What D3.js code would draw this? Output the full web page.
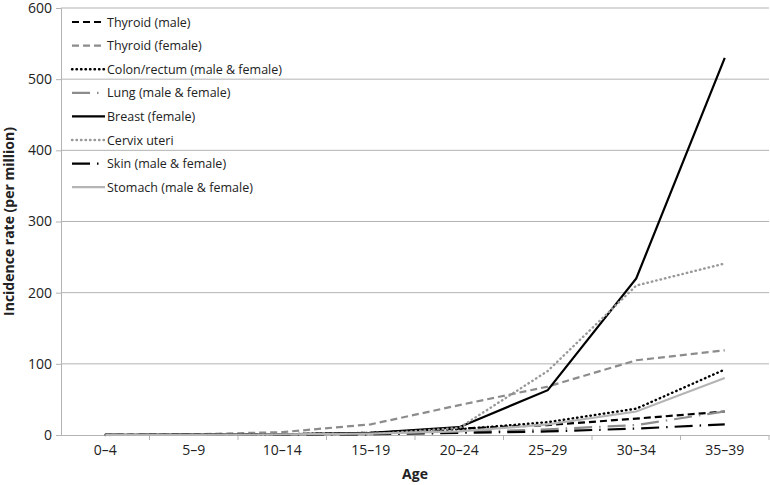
<!DOCTYPE html>
<html lang="en">
<head>
<meta charset="utf-8">
<title>Incidence rate by age</title>
<script src="https://cdn.jsdelivr.net/npm/d3@7"></script>
<style>
  body { margin: 0; background: #fff; }
  text { font-family: "Open Sans", "Liberation Sans", sans-serif; }
</style>
</head>
<body>
<script>
var ages = ["0\u20134", "5\u20139", "10\u201314", "15\u201319", "20\u201324", "25\u201329", "30\u201334", "35\u201339"];
var yTicks = [0, 100, 200, 300, 400, 500, 600];

var thyroidMale   = [0.2, 0.5, 1, 3, 9, 14, 23, 33];
var thyroidFemale = [0.3, 1, 4, 15, 42, 68, 105, 119];
var colon         = [0.2, 0.3, 1, 3, 8, 18, 37, 92];
var lung          = [0.2, 0.3, 0.8, 2, 4, 8, 14, 33];
var breast        = [0.2, 0.5, 1, 3, 11, 63, 220, 530];
var cervix        = [0.1, 0.2, 0.5, 1, 10, 90, 210, 241];
var skin          = [0.1, 0.2, 0.5, 1, 3, 5, 9, 15];
var stomach       = [0.2, 0.3, 0.8, 2, 5, 15, 33, 80];

var series = [
  {name: "Thyroid (male)", values: thyroidMale, color: "#000", dash: "7,4", width: 2.2},
  {name: "Thyroid (female)", values: thyroidFemale, color: "#8c8c8c", dash: "7,4", width: 2.2},
  {name: "Colon/rectum (male & female)", values: colon, color: "#000", dash: "0.5,4", width: 2.4, cap: "round"},
  {name: "Lung (male & female)", values: lung, color: "#8c8c8c", dash: "18,7,1.5,7", width: 2.2},
  {name: "Breast (female)", values: breast, color: "#000", dash: null, width: 2.2},
  {name: "Cervix uteri", values: cervix, color: "#999", dash: "0.5,4", width: 2.4, cap: "round"},
  {name: "Skin (male & female)", values: skin, color: "#000", dash: "18,7,1.5,7", width: 2.2},
  {name: "Stomach (male & female)", values: stomach, color: "#b4b4b4", dash: null, width: 2.2}
];

var w = 770, h = 485;
var mLeft = 61, mRight = 769, mTop = 8, mBottom = 435;

var svg = d3.select("body").append("svg")
  .attr("width", w)
  .attr("height", h);

var x = d3.scaleBand().domain(ages).range([mLeft, mRight]);
var y = d3.scaleLinear().domain([0, 600]).range([mBottom, mTop]);

// gridlines
svg.selectAll("line.grid")
  .data(yTicks.slice(1))
  .enter().append("line")
  .attr("class", "grid")
  .attr("x1", mLeft).attr("x2", mRight)
  .attr("y1", function(d) { return y(d); })
  .attr("y2", function(d) { return y(d); })
  .attr("stroke", "#b3b3b3")
  .attr("stroke-width", 1);

// y axis
var yAxis = svg.append("g")
  .attr("transform", "translate(" + mLeft + ",0)")
  .call(d3.axisLeft(y).tickValues(yTicks).tickSize(5).tickPadding(4));
yAxis.select(".domain").attr("stroke", "#b3b3b3");
yAxis.selectAll(".tick line").attr("stroke", "#b3b3b3");
yAxis.selectAll(".tick text").attr("font-size", "14px").attr("fill", "#222")
  .style("font-family", "'Open Sans', sans-serif");

// x axis: ticks on category boundaries
var xAxis = svg.append("g")
  .attr("transform", "translate(0," + mBottom + ")")
  .call(d3.axisBottom(x).tickSize(0).tickPadding(10));
xAxis.select(".domain").attr("stroke", "#b3b3b3");
xAxis.selectAll(".tick text").attr("font-size", "14px").attr("fill", "#222")
  .style("font-family", "'Open Sans', sans-serif");
xAxis.selectAll("line.bound")
  .data(ages)
  .enter().append("line")
  .attr("class", "bound")
  .attr("x1", function(d) { return x(d) + x.bandwidth(); })
  .attr("x2", function(d) { return x(d) + x.bandwidth(); })
  .attr("y1", 0).attr("y2", 5)
  .attr("stroke", "#b3b3b3");

// lines
var line = d3.line()
  .x(function(d, i) { return x(ages[i]) + x.bandwidth() / 2; })
  .y(function(d) { return y(d); });

svg.selectAll("path.series")
  .data(series)
  .enter().append("path")
  .attr("class", "series")
  .attr("d", function(d) { return line(d.values); })
  .attr("fill", "none")
  .attr("stroke", function(d) { return d.color; })
  .attr("stroke-width", function(d) { return d.width; })
  .attr("stroke-dasharray", function(d) { return d.dash; })
  .attr("stroke-linecap", function(d) { return d.cap || "butt"; });

// legend
var legend = svg.append("g").attr("transform", "translate(72,22)");
var items = legend.selectAll("g")
  .data(series)
  .enter().append("g")
  .attr("transform", function(d, i) { return "translate(0," + (i * 23.6) + ")"; });
items.append("line")
  .attr("x1", 0).attr("x2", 33).attr("y1", 0).attr("y2", 0)
  .attr("stroke", function(d) { return d.color; })
  .attr("stroke-width", function(d) { return d.width; })
  .attr("stroke-dasharray", function(d) { return d.dash; })
  .attr("stroke-linecap", function(d) { return d.cap || "butt"; });
items.append("text")
  .attr("x", 35).attr("y", 4.5)
  .attr("font-size", "12.5px")
  .attr("fill", "#222")
  .text(function(d) { return d.name; });

// axis titles
svg.append("text")
  .attr("transform", "translate(14," + ((mTop + mBottom) / 2) + ") rotate(-90)")
  .attr("text-anchor", "middle")
  .attr("font-size", "14px")
  .attr("font-weight", "bold")
  .attr("fill", "#222")
  .text("Incidence rate (per million)");

svg.append("text")
  .attr("x", (mLeft + mRight) / 2)
  .attr("y", 479)
  .attr("text-anchor", "middle")
  .attr("font-size", "14px")
  .attr("font-weight", "bold")
  .attr("fill", "#222")
  .text("Age");
</script>
</body>
</html>
